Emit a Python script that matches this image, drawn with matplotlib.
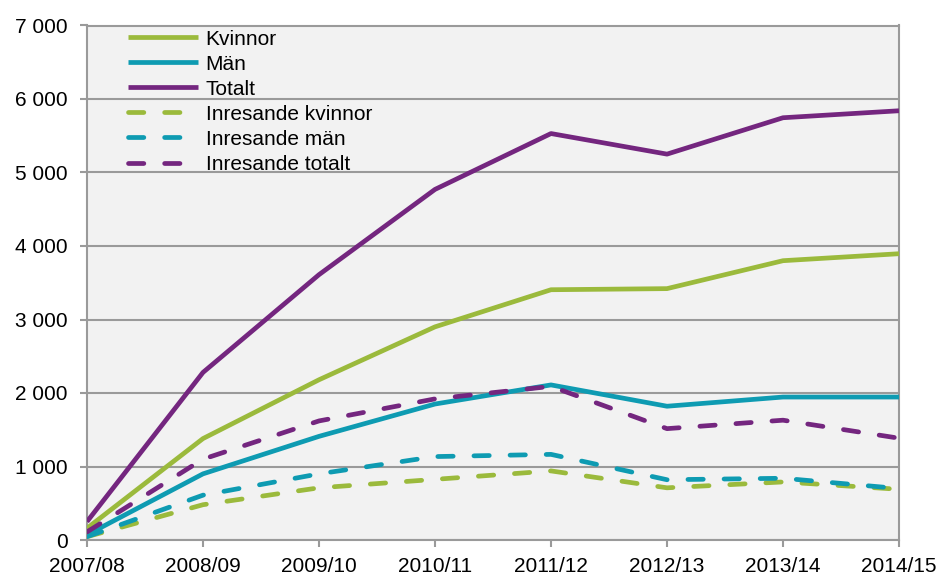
import matplotlib
matplotlib.use("Agg")
import matplotlib.pyplot as plt
from matplotlib.ticker import FuncFormatter

plt.rcParams['font.family'] = ['Liberation Sans', 'DejaVu Sans']

years = ["2007/08", "2008/09", "2009/10", "2010/11", "2011/12", "2012/13", "2013/14", "2014/15"]
kvinnor = [160, 1380, 2180, 2900, 3405, 3420, 3800, 3895]
man = [70, 900, 1410, 1850, 2110, 1820, 1945, 1945]
totalt = [250, 2280, 3610, 4770, 5530, 5250, 5745, 5840]
inr_kvinnor = [45, 480, 710, 825, 940, 710, 790, 690]
inr_man = [45, 610, 900, 1135, 1165, 820, 840, 700]
inr_totalt = [110, 1100, 1620, 1920, 2090, 1515, 1630, 1385]

GREEN = "#9BBA3C"
TEAL = "#0E9BB2"
PURPLE = "#74267F"
GRID = "#9a9a9a"

fig = plt.figure(figsize=(9.39, 5.75), dpi=100)
ax = fig.add_axes([87/939, 35/575, 812/939, 514.5/575])
ax.set_facecolor("#F2F2F2")

x = list(range(len(years)))
lw = 3.4
ax.plot(x, kvinnor, color=GREEN, lw=lw, label="Kvinnor", solid_capstyle='butt', zorder=3)
ax.plot(x, man, color=TEAL, lw=lw, label="Män", solid_capstyle='butt', zorder=3)
ax.plot(x, totalt, color=PURPLE, lw=lw, label="Totalt", solid_capstyle='butt', zorder=3)
for vals, col, lab in [(inr_kvinnor, GREEN, "Inresande kvinnor"),
                       (inr_man, TEAL, "Inresande män"),
                       (inr_totalt, PURPLE, "Inresande totalt")]:
    ax.plot(x, vals, color=col, lw=lw, label=lab, dashes=(3.25, 4.4),
            dash_capstyle='round', zorder=3)

ax.set_xlim(0, len(years) - 1)
ax.set_ylim(0, 7000)
ax.set_yticks(range(0, 7001, 1000))
ax.yaxis.set_major_formatter(FuncFormatter(lambda v, p: f"{int(v):,}".replace(",", " ")))
ax.set_xticks(x)
ax.set_xticklabels(years)

ax.grid(axis='y', color=GRID, lw=1.5, zorder=1)
for s in ax.spines.values():
    s.set_color(GRID)
    s.set_linewidth(1.5)
ax.tick_params(axis='both', colors=GRID, labelcolor='black', labelsize=15,
               length=5, width=1.5, direction='out')
ax.tick_params(axis='y', pad=9)
ax.tick_params(axis='x', pad=7)

leg = ax.legend(loc='upper left', bbox_to_anchor=(0.05, 0.992), frameon=False,
                fontsize=15, handlelength=3.37, handletextpad=0.38,
                labelspacing=0.29, borderpad=0.0, borderaxespad=0.0)

fig.savefig("out.png", dpi=100)
